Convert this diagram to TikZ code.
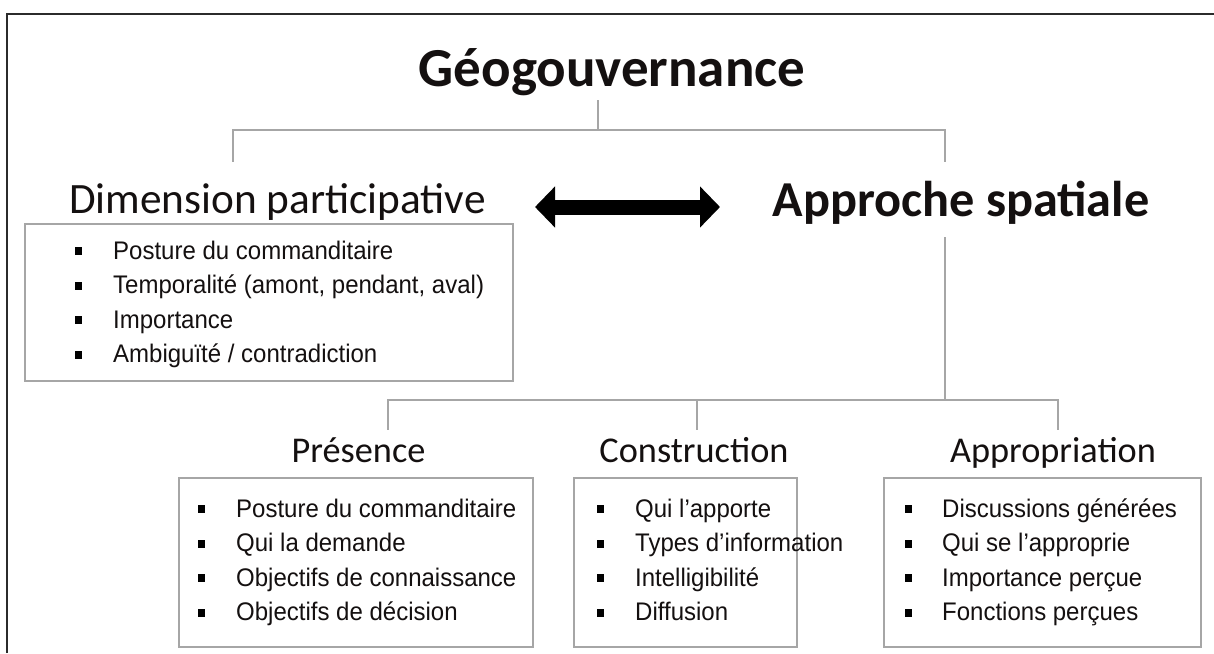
\documentclass[tikz,border=0pt]{standalone}
\usepackage{fontspec}
\setmainfont{Liberation Sans}
\newfontfamily\calfont{Carlito}
\usetikzlibrary{arrows.meta}
\definecolor{lgray}{HTML}{A6A6A6}
\definecolor{frm}{HTML}{2B2B2B}
\definecolor{txt}{HTML}{141010}
\tikzset{
  conn/.style={draw=lgray, line width=2pt},
  boxst/.style={draw=lgray, line width=2pt, fill=white, inner sep=0pt, anchor=north west},
  bul/.style={fill=black, rectangle, inner sep=0pt, minimum width=7pt, minimum height=8pt},
  itm/.style={anchor=base west, inner sep=0pt, font=\fontsize{24}{28}\selectfont, text=txt},
  head/.style={anchor=base, inner sep=0pt, font=\calfont\fontsize{36.3}{40}\selectfont, text=txt},
}
\newcommand\blist[5]{%
  \foreach \t [count=\i from 0] in {#5} {
    \node[bul] (#4b\i) at (#1, #3+\i*34.5-8) {};
    \node[itm] (#4t\i) at (#2, #3+\i*34.5) {\scalebox{1}[1.06]{\t}};
  }%
}
\begin{document}
\begin{tikzpicture}[x=1pt,y=-1pt]
\useasboundingbox (0,0) rectangle (1214,653);
\fill[white] (0,0) rectangle (1214,653);
% frame
\draw[frm, line width=2pt] (7,653) -- (7,14) -- (1214,14);

% headings
\node[anchor=base, inner sep=0pt, text=txt, font=\calfont\bfseries\fontsize{55}{60}\selectfont] (title) at (612,86) {Géogouvernance};
\node[anchor=base, inner sep=0pt, text=txt, font=\calfont\fontsize{43.3}{48}\selectfont] (dim) at (277.5,213) {Dimension participative};
\node[anchor=base, inner sep=0pt, text=txt, font=\calfont\bfseries\fontsize{50.3}{55}\selectfont] (app) at (961,216) {Approche spatiale};

% upper tree
\coordinate (tt) at (598,100);
\coordinate (dt) at (233,162);
\coordinate (at) at (945,162);
\draw[conn] (tt) -- ++(0,30) -| (dt);
\draw[conn] (tt) -- ++(0,30) -| (at);

% double arrow
\coordinate (arl) at (535,207);
\coordinate (arr) at (720,207);
\draw[line width=15pt, {Triangle[length=20pt,width=40pt]}-{Triangle[length=20pt,width=40pt]}] (arl) -- (arr);

% dimension box
\node[boxst, minimum width=488pt, minimum height=157pt] (dimbox) at (24,223) {};
\blist{78}{113}{259}{d}{Posture du commanditaire, {Temporalité (amont, pendant, aval)}, Importance, Ambiguïté / contradiction}

% lower tree
\coordinate (ab) at (945,237);
\coordinate (pt) at (388,430);
\coordinate (ct) at (697,430);
\coordinate (apt) at (1058,430);
\draw[conn] (ab) -- (945,400) -| (pt);
\draw[conn] (ab) -- (945,400) -| (ct);
\draw[conn] (ab) -- (945,400) -| (apt);

% lower headings
\node[head] (pres) at (358.5,462) {Présence};
\node[head] (cons) at (694,462) {Construction};
\node[head] (appr) at (1053,462) {Appropriation};

% lower boxes
\node[boxst, minimum width=354pt, minimum height=169pt] (presbox) at (178,477) {};
\node[boxst, minimum width=223pt, minimum height=169pt] (consbox) at (573,477) {};
\node[boxst, minimum width=317pt, minimum height=169pt] (apprbox) at (883,477) {};

\blist{201}{236}{517}{p}{Posture du commanditaire, Qui la demande, Objectifs de connaissance, Objectifs de décision}
\blist{600}{635}{517}{c}{Qui l’apporte, Types d’information, Intelligibilité, Diffusion}
\blist{908}{942}{517}{a}{Discussions générées, Qui se l’approprie, Importance perçue, Fonctions perçues}
\end{tikzpicture}
\end{document}
